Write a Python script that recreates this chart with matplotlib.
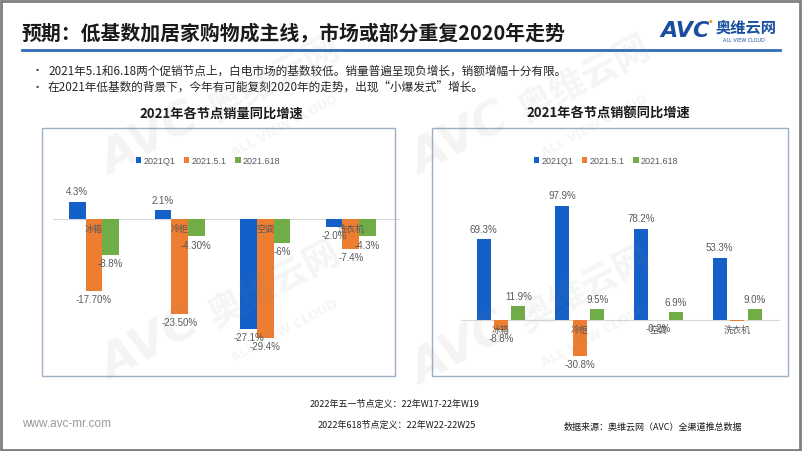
import numpy as np
import matplotlib
matplotlib.use('Agg')
import matplotlib.pyplot as plt
from matplotlib.patches import Rectangle
from matplotlib.lines import Line2D

plt.rcParams['font.family'] = ['Noto Sans CJK SC', 'DejaVu Sans']

# data
categories = ['冰箱', '冷柜', '空调', '洗衣机']
series = ['2021Q1', '2021.5.1', '2021.618']
colors = ['#1560C8', '#ED7D31', '#70AD47']

vol_values = [[4.3, 2.1, -27.1, -2.0],
              [-17.7, -23.5, -29.4, -7.4],
              [-8.8, -4.3, -6.0, -4.3]]
vol_labels = [['4.3%', '2.1%', '-27.1%', '-2.0%'],
              ['-17.70%', '-23.50%', '-29.4%', '-7.4%'],
              ['-8.8%', '-4.30%', '-6%', '-4.3%']]

amt_values = [[69.3, 97.9, 78.2, 53.3],
              [-8.8, -30.8, -0.2, -0.6],
              [11.9, 9.5, 6.9, 9.0]]
amt_labels = [['69.3%', '97.9%', '78.2%', '53.3%'],
              ['-8.8%', '-30.8%', '-0.2%', ''],
              ['11.9%', '9.5%', '6.9%', '9.0%']]

title = '预期：低基数加居家购物成主线，市场或部分重复2020年走势'
bullets = ['2021年5.1和6.18两个促销节点上，白电市场的基数较低。销量普遍呈现负增长，销额增幅十分有限。',
           '在2021年低基数的背景下，今年有可能复刻2020年的走势，出现“小爆发式”增长。']
chart_titles = ['2021年各节点销量同比增速', '2021年各节点销额同比增速']
footer1 = '2022年五一节点定义：22年W17-22年W19'
footer2 = '2022年618节点定义：22年W22-22W25'
source = '数据来源：奥维云网（AVC）全渠道推总数据'
site = 'www.avc-mr.com'

W, H = 802, 451
fig = plt.figure(figsize=(W / 100, H / 100), dpi=100)
fig.patch.set_facecolor('white')


def fx(x):
    return x / W


def fy(y):
    return 1 - y / H


def axes_px(x0, y0, x1, y1):
    return fig.add_axes([fx(x0), fy(y1), (x1 - x0) / W, (y1 - y0) / H])


# outer frame
fig.add_artist(Rectangle((0.001, 0.002), 0.997, 0.996, transform=fig.transFigure,
                         fill=False, edgecolor='#7f7f7f', linewidth=2))

# title + underline
fig.text(fx(22), fy(33), title, fontsize=14.3, fontweight='bold', color='#1a1a1a',
         va='center', ha='left')
fig.add_artist(Line2D([fx(22), fx(780)], [fy(50), fy(50)], color='#2F6EBA', linewidth=2))

# logo
fig.text(fx(660), fy(31), 'AVC', fontsize=16, fontweight='bold', style='italic',
         color='#1A4FA0', va='center', ha='left', family=['DejaVu Sans'])
fig.text(fx(711), fy(22), '●', fontsize=3, color='#F39A1E', va='center', ha='center',
         family=['DejaVu Sans'])
fig.text(fx(716), fy(28), '奥维云网', fontsize=11, fontweight='bold', color='#1A4FA0',
         va='center', ha='left')
fig.text(fx(744), fy(40), 'ALL VIEW CLOUD', fontsize=3.5, color='#1A4FA0',
         va='center', ha='center', family=['DejaVu Sans'])

# bullets
for i, b in enumerate(bullets):
    y = 71 + i * 17
    fig.text(fx(32), fy(y), '•', fontsize=8, color='#333333', va='center', ha='left')
    fig.text(fx(48), fy(y), b, fontsize=8.4, color='#262626', va='center', ha='left')

# panel boxes and titles
for (x0, x1), t, cx in zip([(42, 395), (432, 788)], chart_titles, [221, 608]):
    fig.add_artist(Rectangle((fx(x0), fy(376)), (x1 - x0) / W, (376 - 128) / H,
                             transform=fig.transFigure, fill=False,
                             edgecolor='#9DB0C8', linewidth=1))
    fig.text(fx(cx), fy(114), t, fontsize=9.5, fontweight='bold', color='#1a1a1a',
             va='center', ha='center')


def bar_chart(ax, values, labels, width, step, xlim, ylim):
    x = np.arange(len(categories))
    handles = []
    for i, (vals, labs) in enumerate(zip(values, labels)):
        pos = x + (i - 1) * step
        bars = ax.bar(pos, vals, width, color=colors[i], label=series[i], zorder=2)
        handles.append(bars)
        for p, v, lab in zip(pos, vals, labs):
            if not lab:
                continue
            off = 3 if v >= 0 else -3
            ax.annotate(lab, (p, v), xytext=(0, off), textcoords='offset points',
                        ha='center', va='bottom' if v >= 0 else 'top',
                        fontsize=7, color='#595959', family=['Liberation Sans', 'DejaVu Sans'])
    ax.axhline(0, color='#D9D9D9', linewidth=0.8, zorder=1)
    for xi, c in zip(x, categories):
        ax.annotate(c, (xi, 0), xytext=(0, -7.5), textcoords='offset points',
                    ha='center', va='center', fontsize=6.5, color='#595959', zorder=3)
    ax.set_xlim(*xlim)
    ax.set_ylim(*ylim)
    ax.axis('off')
    return handles


ax1 = axes_px(53, 140, 400, 370)
h1 = bar_chart(ax1, vol_values, vol_labels, 0.195, 0.195, (-0.479, 3.575), (-37.3, 19.5))
ax2 = axes_px(461, 140, 780, 370)
h2 = bar_chart(ax2, amt_values, amt_labels, 0.178, 0.222, (-0.508, 3.545), (-42.9, 154))

for handles, cx in [(h1, 208), (h2, 606)]:
    fig.legend(handles, series, loc='center', bbox_to_anchor=(fx(cx), fy(161)), ncol=3,
               frameon=False, handlelength=0.6, handleheight=0.6,
               columnspacing=1.0, handletextpad=0.2, labelcolor='#595959',
               prop={'family': ['Liberation Sans', 'DejaVu Sans'], 'size': 6.5})

# footer
fig.text(fx(395), fy(404), footer1, fontsize=6.5, color='#1a1a1a', ha='center', va='center')
fig.text(fx(397), fy(425), footer2, fontsize=6.5, color='#1a1a1a', ha='center', va='center')
fig.text(fx(653), fy(427), source, fontsize=6.5, color='#1a1a1a', ha='center', va='center')
fig.text(fx(22), fy(424), site, fontsize=8.5, color='#9a9a9a', ha='left', va='center',
         family=['Liberation Sans', 'DejaVu Sans'])

# watermarks
for ax_, ay_ in [(115, 185), (425, 185), (115, 390), (425, 395)]:
    fig.text(fx(ax_), fy(ay_), 'AVC', fontsize=34, fontweight='bold', style='italic',
             color='#808080', alpha=0.09, rotation=28, ha='left', va='bottom',
             rotation_mode='anchor', family=['DejaVu Sans'], zorder=10)
    fig.text(fx(ax_ + 105), fy(ay_ - 55), '奥维云网', fontsize=26, fontweight='bold',
             color='#808080', alpha=0.08, rotation=28, ha='left', va='bottom',
             rotation_mode='anchor', zorder=10)
    fig.text(fx(ax_ + 120), fy(ay_ - 25), 'ALL VIEW CLOUD', fontsize=9, fontweight='bold',
             color='#808080', alpha=0.08, rotation=28, ha='left', va='bottom',
             rotation_mode='anchor', family=['DejaVu Sans'], zorder=10)

fig.savefig('out.png', dpi=100)
